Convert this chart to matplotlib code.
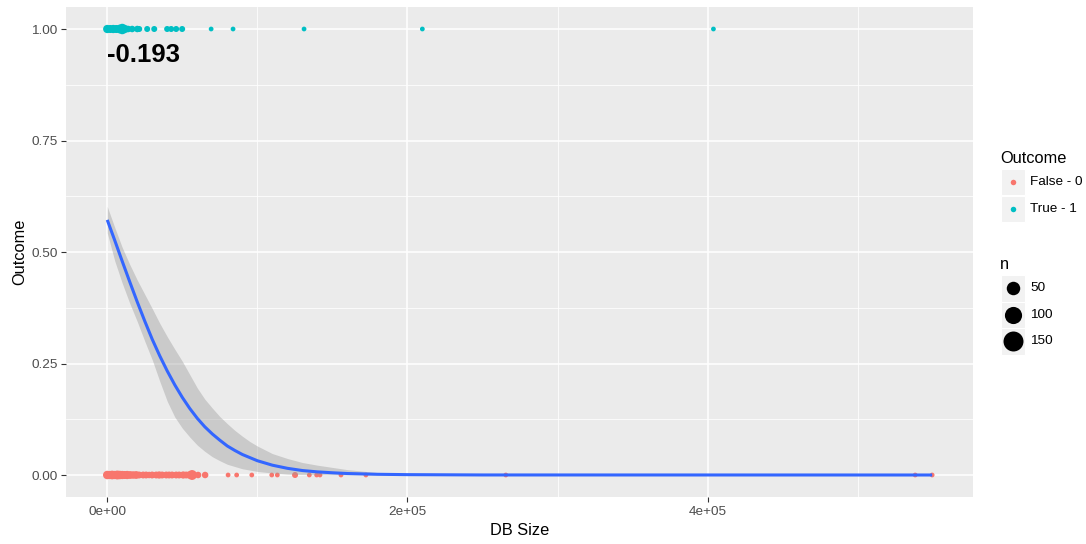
import numpy as np
import matplotlib
matplotlib.use("Agg")
import matplotlib.pyplot as plt
from matplotlib.patches import Rectangle
from matplotlib.lines import Line2D

plt.rcParams['font.family'] = ['Liberation Sans', 'DejaVu Sans']

# ---- data -------------------------------------------------------------
# outcome = 0 (False) observations: DB size and count of rows at that size
false_x = [0, 1700, 3300, 5000, 6700, 8300, 10000, 11600, 13300, 15300, 17300,
           19300, 21300, 23900, 25900, 27900, 29900, 32600, 34600, 36600, 39300,
           41200, 43200, 45900, 47900, 50600, 52600, 54600, 56500, 60500, 65200,
           80500, 86200, 96300, 109600, 113300, 125100, 134600, 139500, 141700,
           155700, 172300, 265500, 538200, 549500]
false_n = [10, 9, 11, 9, 12, 10, 9, 8, 9, 7, 6,
           7, 4, 4, 4, 3, 4, 4, 5, 4, 4,
           4, 4, 4, 4, 5, 4, 5, 18, 3, 3,
           1, 1, 1, 1, 1, 2, 1, 1, 1,
           1, 1, 1, 1, 1]

# outcome = 1 (True) observations
true_x = [0, 2000, 4000, 6000, 8000, 10000, 12000, 14000, 16600, 20000, 21300,
          26600, 31300, 39900, 42600, 45900, 49900, 69200, 83800, 131100,
          209900, 403800]
true_n = [9, 8, 9, 8, 10, 22, 7, 3, 3, 3, 2,
          2, 2, 2, 2, 2, 2, 1, 1, 1,
          1, 1]

# logistic smooth with its confidence band
fit_x = [0, 5000, 10000, 15000, 20000, 25000, 30000, 35000, 40000, 45000,
         50000, 55000, 60000, 65000, 70000, 75000, 80000, 85000, 90000, 95000,
         100000, 110000, 120000, 130000, 140000, 150000, 160000, 180000,
         200000, 250000, 549500]
fit_y = [0.572, 0.526, 0.479, 0.433, 0.388, 0.345, 0.304, 0.267, 0.233, 0.202,
         0.174, 0.149, 0.127, 0.108, 0.092, 0.078, 0.065, 0.055, 0.046, 0.039,
         0.032, 0.022, 0.015, 0.010, 0.007, 0.005, 0.0033, 0.0016,
         0.0008, 0.0001, 0.0]
fit_lo = [0.543, 0.48, 0.43, 0.385, 0.344, 0.30, 0.258, 0.21, 0.165, 0.13,
          0.105, 0.085, 0.067, 0.053, 0.041, 0.032, 0.024, 0.019, 0.014, 0.011,
          0.008, 0.0045, 0.002, 0.001, 0.0005, 0.0002, 0.0001, 0.0,
          0.0, 0.0, 0.0]
fit_hi = [0.602, 0.555, 0.51, 0.472, 0.437, 0.405, 0.373, 0.34, 0.31, 0.282,
          0.255, 0.225, 0.195, 0.17, 0.15, 0.131, 0.115, 0.10, 0.087, 0.075,
          0.065, 0.048, 0.037, 0.028, 0.022, 0.017, 0.012, 0.0055,
          0.0025, 0.0005, 0.0]

annotation = "-0.193"
outcome_labels = ["False - 0", "True - 1"]
size_breaks = [50, 100, 150]
x_ticks = [0, 200000, 400000]
x_ticklabels = ["0e+00", "2e+05", "4e+05"]
y_ticks = [0.0, 0.25, 0.5, 0.75, 1.0]
y_ticklabels = ["0.00", "0.25", "0.50", "0.75", "1.00"]

# ---- style ------------------------------------------------------------
W, H = 1086, 544
RED, CYAN = "#F8766D", "#00BFC4"
PANEL = "#EBEBEB"
SIZE_LIM = (1, 366)          # limits of the size scale
PX_PER_SIZE = 4.76           # point diameter in px per size unit


def diam_px(n):
    n = np.asarray(n, dtype=float)
    r = np.clip((n - SIZE_LIM[0]) / (SIZE_LIM[1] - SIZE_LIM[0]), 0, 1)
    return PX_PER_SIZE * (1 + 5 * np.sqrt(r))


def area_pt2(n):
    return (diam_px(n) * 72 / 100) ** 2


def fx(px):
    return px / W


def fy(py):
    return 1 - py / H


fig = plt.figure(figsize=(W / 100, H / 100), dpi=100)
fig.patch.set_facecolor("white")
p_left, p_right, p_top, p_bot = 66, 973.4, 6.7, 497.3
ax = fig.add_axes([fx(p_left), fy(p_bot), fx(p_right - p_left), (p_bot - p_top) / H])
ax.set_facecolor(PANEL)

all_x = np.array(false_x + true_x)
xr = all_x.max() - all_x.min()
ax.set_xlim(all_x.min() - 0.05 * xr, all_x.max() + 0.05 * xr)
ax.set_ylim(-0.05, 1.05)

# grid
for v in [100000, 300000, 500000]:
    ax.axvline(v, color="white", lw=0.55, zorder=0.5)
for v in [0.125, 0.375, 0.625, 0.875]:
    ax.axhline(v, color="white", lw=0.55, zorder=0.5)
for v in x_ticks:
    ax.axvline(v, color="white", lw=1.1, zorder=0.6)
for v in y_ticks:
    ax.axhline(v, color="white", lw=1.1, zorder=0.6)

# points
ax.scatter(false_x, np.zeros(len(false_x)), s=area_pt2(false_n), color=RED,
           linewidths=0, zorder=2)
ax.scatter(true_x, np.ones(len(true_x)), s=area_pt2(true_n), color=CYAN,
           linewidths=0, zorder=2)

# smooth
ax.fill_between(fit_x, fit_lo, fit_hi, color="#999999", alpha=0.4, lw=0, zorder=3)
ax.plot(fit_x, fit_y, color="#3366FF", lw=2.2, zorder=4, solid_capstyle="butt",
        solid_joinstyle="round")

ax.text(0, 0.927, annotation, ha="left", va="baseline", fontsize=18.5,
        fontweight="bold", color="black", zorder=5)

# axes
for s in ax.spines.values():
    s.set_visible(False)
ax.set_xticks(x_ticks)
ax.set_xticklabels(x_ticklabels)
ax.set_yticks(y_ticks)
ax.set_yticklabels(y_ticklabels)
ax.tick_params(axis="both", length=3.5, width=0.8, color="#333333",
               labelcolor="#4D4D4D", labelsize=9.7, pad=2.5)
ax.set_xlabel("DB Size", fontsize=11.8, labelpad=4)
ax.set_ylabel("Outcome", fontsize=11.8, labelpad=3)

# ---- legends ----------------------------------------------------------
fig.text(fx(1000), fy(158), "Outcome", fontsize=11.8, ha="left", va="center")
key_x0, key_w = 1001, 24
for i, (lab, col) in enumerate(zip(outcome_labels, [RED, CYAN])):
    y0 = 169 + i * 27
    fig.patches.append(Rectangle((fx(key_x0), fy(y0 + 26)), key_w / W, 26 / H,
                                 transform=fig.transFigure, facecolor="#F2F2F2",
                                 edgecolor="white", lw=0.8))
    fig.add_artist(Line2D([fx(key_x0 + key_w / 2)], [fy(y0 + 13)], marker="o",
                          markersize=5.5 * 0.72, color=col, markeredgewidth=0,
                          linestyle="none", transform=fig.transFigure))
    fig.text(fx(1030), fy(y0 + 13), lab, fontsize=9.7, ha="left", va="center")

fig.text(fx(1000), fy(265), "n", fontsize=11.8, ha="left", va="center")
for i, b in enumerate(size_breaks):
    y0 = 275 + i * 26.5
    fig.patches.append(Rectangle((fx(key_x0), fy(y0 + 26.5)), key_w / W, 26.5 / H,
                                 transform=fig.transFigure, facecolor="#F2F2F2",
                                 edgecolor="white", lw=0.8))
    fig.add_artist(Line2D([fx(key_x0 + key_w / 2)], [fy(y0 + 13.25)], marker="o",
                          markersize=float(diam_px(b)) * 0.72, color="black",
                          markeredgewidth=0, linestyle="none",
                          transform=fig.transFigure))
    fig.text(fx(1030), fy(y0 + 13.25), str(b), fontsize=9.7, ha="left", va="center")

fig.savefig("out.png", dpi=100)
